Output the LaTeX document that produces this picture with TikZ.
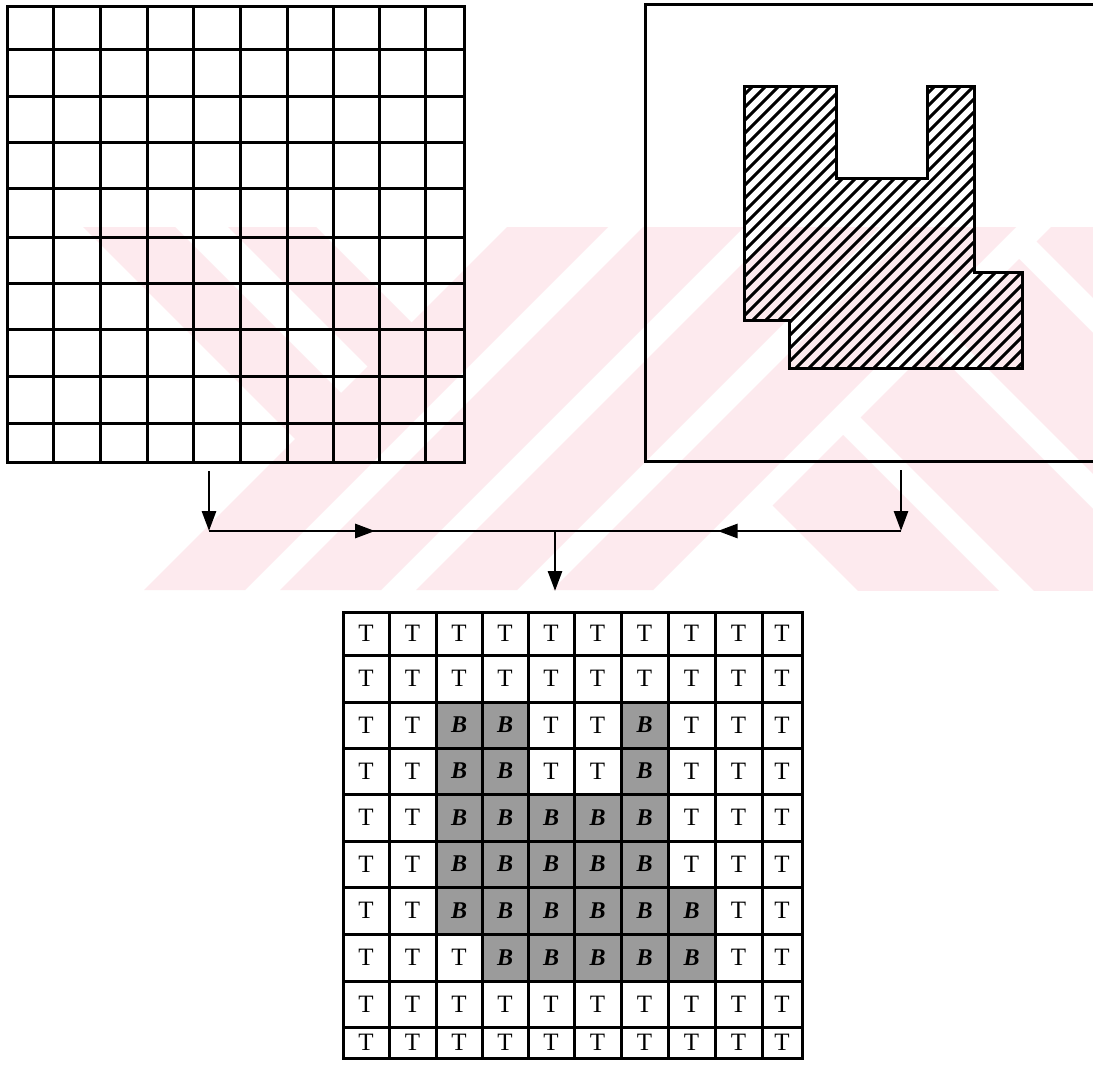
\documentclass[tikz,border=0pt]{standalone}
\usepackage{fontspec}
\setmainfont{Liberation Serif}
\usetikzlibrary{arrows.meta,calc}
\definecolor{wm}{RGB}{253,234,238}
\definecolor{cellgray}{RGB}{155,155,155}
\tikzset{
  gridline/.style={line width=3pt,black},
  hatchline/.style={line width=3pt,black},
  conn/.style={line width=2.8pt,black},
  tip/.style={-{Triangle[length=20pt,width=14pt]}},
  tcell/.style={inner sep=0pt,font=\fontsize{25}{25}\selectfont},
  bcell/.style={inner sep=0pt,font=\fontsize{24}{24}\selectfont\bfseries\itshape},
}
\begin{document}
\begin{tikzpicture}[x=1pt,y=-1pt]
\useasboundingbox (0,0) rectangle (1093,1070);
\fill[white] (0,0) rectangle (1093,1070);
% ---------- watermark ----------
\begin{scope}
\clip (0,227) rectangle (1093,590);
\foreach \k in {0,...,3}{
  \pgfmathsetmacro\A{734+136*\k}
  \fill[wm] (\A-227,227) -- (\A+101-227,227) -- (\A+101-590,590) -- (\A-590,590) -- cycle;
}
\fill[wm] (83,227) -- (175,227) -- (344,396) -- (298,442) -- cycle;
\fill[wm] (228,227) -- (316,227) -- (414,325) -- (370,369) -- cycle;
\foreach \a/\b in {267/408,443/584,619/760,795/936}{
  \fill[wm] ({(1278+\a)/2},{(1278-\a)/2}) -- ({(1278+\b)/2},{(1278-\b)/2}) -- (\b+700,700) -- (\a+700,700) -- cycle;
}
\end{scope}
% ---------- left grid ----------
\foreach \x in {7,53,100,147,193,240,287,333,379,425,464}
  \draw[gridline] (\x,7) -- (\x,462);
\foreach \y in {7,50,97,143,189,237,283,329,376,423,462}
  \draw[gridline] (7,\y) -- (464,\y);
\draw[gridline] (7,7) rectangle (464,462);
% ---------- right box with hatched shape ----------
\draw[gridline] (1093,5) -- (645,5) -- (645,461) -- (1093,461);
\begin{scope}
\clip (744,87) -- (836,87) -- (836,179) -- (927,179) -- (927,87) -- (974,87) -- (974,272) -- (1022,272) -- (1022,368) -- (789,368) -- (789,320) -- (744,320) -- cycle;
\foreach \c in {826,839,...,1400}
  \draw[hatchline] (\c-60,60) -- (\c-420,420);
\end{scope}
\draw[gridline] (744,87) -- (836,87) -- (836,179) -- (927,179) -- (927,87) -- (974,87) -- (974,272) -- (1022,272) -- (1022,368) -- (789,368) -- (789,320) -- (744,320) -- cycle;
% ---------- connectors ----------
\coordinate (la1) at (209,471);
\coordinate (la2) at (209,531);
\coordinate (ra1) at (901,470);
\coordinate (ra2) at (901,531);
\coordinate (jn) at (555,531);
\coordinate (dn) at (555,591);
\draw[conn,tip] (la1) -- (la2);
\draw[conn,tip] (ra1) -- (ra2);
\draw[conn] (la2) -- (ra2);
\draw[conn,tip] (la2) -- ($(la2)!0.48!(jn)$);
\draw[conn,tip] (ra2) -- ($(ra2)!0.53!(jn)$);
\draw[conn,tip] (jn) -- (dn);
% ---------- result grid ----------
\def\BX{{343,389,436,482,528,574,621,668,715,762,802}}
\def\BY{{612,655,702,748,794,841,887,934,981,1027,1058}}
\foreach \r in {0,...,9}{
  \foreach \c in {0,...,9}{
    \pgfmathsetmacro\xa{\BX[\c]}
    \pgfmathsetmacro\xb{\BX[\c+1]}
    \pgfmathsetmacro\ya{\BY[\r]}
    \pgfmathsetmacro\yb{\BY[\r+1]}
    \pgfmathtruncatemacro\isb{((\r==2||\r==3)&&(\c==2||\c==3||\c==6)) || ((\r==4||\r==5)&&(\c>1)&&(\c<7)) || ((\r==6)&&(\c>1)&&(\c<8)) || ((\r==7)&&(\c>2)&&(\c<8))}
    \ifnum\isb=1
      \fill[cellgray] (\xa,\ya) rectangle (\xb,\yb);
      \node[bcell] (cell-\r-\c) at ({(\xa+\xb)/2},{(\ya+\yb)/2}) {B};
    \else
      \node[tcell] (cell-\r-\c) at ({(\xa+\xb)/2},{(\ya+\yb)/2}) {T};
    \fi
  }
}
\foreach \x in {343,389,436,482,528,574,621,668,715,762,802}
  \draw[gridline] (\x,612) -- (\x,1058);
\foreach \y in {612,655,702,748,794,841,887,934,981,1027,1058}
  \draw[gridline] (343,\y) -- (802,\y);
\draw[gridline] (343,612) rectangle (802,1058);
\end{tikzpicture}
\end{document}
